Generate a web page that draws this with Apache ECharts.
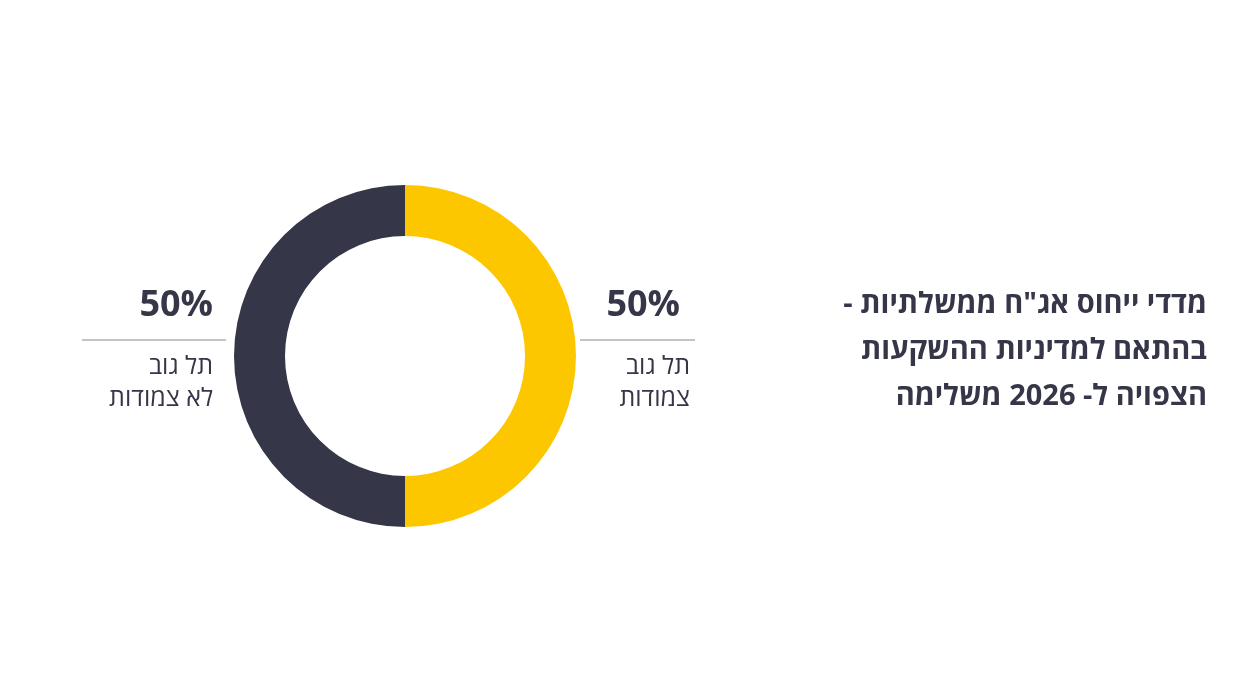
<!DOCTYPE html>
<html><head><meta charset="utf-8">
<script src="https://cdn.jsdelivr.net/npm/echarts@6/dist/echarts.min.js"></script>
<style>html,body{margin:0;padding:0;background:#fff}#c{width:1250px;height:700px}</style>
</head><body><div id="c"></div>
<script>
const categories = ['תל גוב צמודות', 'תל גוב לא צמודות'];
const values = [50, 50];
const labelLines = [['תל גוב', 'צמודות'], ['תל גוב', 'לא צמודות']];
const titleLines = ['מדדי ייחוס אג"ח ממשלתיות -', 'בהתאם למדיניות ההשקעות', 'הצפויה ל- 2026 משלימה'];
const colors = ['#FDC700', '#353647'];
const dark = '#353647';
const rtl = s => '\u202B' + s + '\u202C';
const font = '"Open Sans", "Noto Sans", sans-serif';
const total = values.reduce((a, b) => a + b, 0);
const pct = v => Math.round(v / total * 100) + '%';

const graphic = [];
titleLines.forEach((t, i) => graphic.push({type: 'text', right: 43, top: 290 + i * 46,
  style: {text: rtl(t), fill: dark, font: 'bold 29px ' + font, textAlign: 'right'}}));
const lbl = [{x: 680, lx1: 580, lx2: 695, tx: 690}, {x: 213, lx1: 82, lx2: 226, tx: 213}];
lbl.forEach((p, i) => {
  graphic.push({type: 'text', x: p.x, y: 288, style: {text: pct(values[i]), fill: dark, font: 'bold 36px ' + font, textAlign: 'right'}});
  graphic.push({type: 'line', shape: {x1: p.lx1, y1: 340, x2: p.lx2, y2: 340}, style: {stroke: '#888', lineWidth: 1}});
  labelLines[i].forEach((t, j) => graphic.push({type: 'text', x: p.tx, y: 354 + j * 32,
    style: {text: rtl(t), fill: dark, font: '25px ' + font, textAlign: 'right'}}));
});

const chart = echarts.init(document.getElementById('c'));
chart.setOption({
  animation: false,
  graphic,
  series: [{type: 'pie', radius: [120, 171], center: [405, 356], startAngle: 90, clockwise: true,
    silent: true, label: {show: false}, labelLine: {show: false},
    data: categories.map((n, i) => ({name: n, value: values[i], itemStyle: {color: colors[i]}}))}]
});
</script></body></html>
